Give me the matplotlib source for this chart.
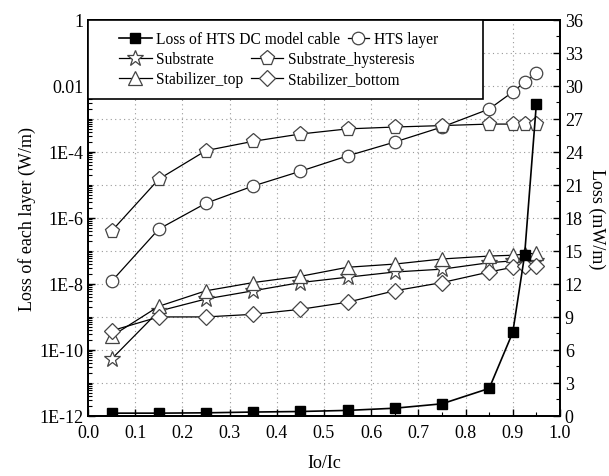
import matplotlib as mpl
mpl.use('Agg')
import matplotlib.pyplot as plt
import matplotlib.ticker as ticker
from matplotlib.patches import Rectangle
from matplotlib.legend import Legend

plt.rcParams['font.family'] = ['Liberation Serif', 'DejaVu Serif']

# Io/Ic 取值
x = [0.05, 0.15, 0.25, 0.35, 0.45, 0.55, 0.65, 0.75, 0.85, 0.9, 0.925, 0.95]

# 各层损耗 (W/m), 左轴
hts_layer = [1.2e-8, 4.6e-7, 2.8e-6, 9.3e-6, 2.6e-5, 7.6e-5, 2.0e-4, 5.7e-4, 2.0e-3, 6.6e-3, 1.3e-2, 2.4e-2]
substrate = [5.3e-11, 1.5e-9, 3.5e-9, 6.2e-9, 1.1e-8, 1.6e-8, 2.3e-8, 2.8e-8, 4.4e-8, 5.0e-8, 5.0e-8, 4.8e-8]
substrate_hyst = [4.0e-7, 1.5e-5, 1.1e-4, 2.1e-4, 3.5e-4, 5.0e-4, 5.7e-4, 6.3e-4, 7.0e-4, 7.0e-4, 7.0e-4, 7.0e-4]
stab_top = [2.6e-10, 2.1e-9, 6.2e-9, 1.1e-8, 1.7e-8, 3.2e-8, 4.0e-8, 5.7e-8, 7.0e-8, 7.4e-8, 8.0e-8, 8.5e-8]
stab_bottom = [3.8e-10, 1.0e-9, 1.0e-9, 1.2e-9, 1.7e-9, 2.8e-9, 6.2e-9, 1.1e-8, 2.3e-8, 3.2e-8, 3.4e-8, 3.5e-8]

# 电缆总损耗 (mW/m), 右轴
cable_loss = [0.25, 0.25, 0.28, 0.35, 0.4, 0.5, 0.7, 1.1, 2.5, 7.6, 14.6, 28.4]

left_ticks = [1e-12, 1e-10, 1e-8, 1e-6, 1e-4, 1e-2, 1]
left_labels = ['1E-12', '1E-10', '1E-8', '1E-6', '1E-4', '0.01', '1']

fig = plt.figure(figsize=(6.09, 4.77), dpi=100)
ax = fig.add_axes([0.1445, 0.126, 0.775, 0.830])
ax2 = ax.twinx()

mk = dict(color='black', lw=0.9, markerfacecolor='white', markeredgecolor='#444444',
          markeredgewidth=0.9)
h_hts, = ax.plot(x, hts_layer, marker='o', markersize=9, label='HTS layer', **mk)
h_sub, = ax.plot(x, substrate, marker='*', markersize=12, label='Substrate', **mk)
h_hys, = ax.plot(x, substrate_hyst, marker='p', markersize=11, label='Substrate_hysteresis', **mk)
h_top, = ax.plot(x, stab_top, marker='^', markersize=10, label='Stabilizer_top', **mk)
h_bot, = ax.plot(x, stab_bottom, marker='D', markersize=8, label='Stabilizer_bottom', **mk)

h_cab, = ax2.plot(x, cable_loss, color='black', lw=1.2, marker='s', markersize=7,
                  markerfacecolor='black', label='Loss of HTS DC model cable')

ax.set_yscale('log')
ax.set_ylim(1e-12, 1)
ax.set_xlim(0, 1.0)
ax.set_yticks(left_ticks)
ax.set_yticklabels(left_labels)
ax.yaxis.set_minor_locator(ticker.LogLocator(base=10, subs=range(1, 10), numticks=30))
ax.yaxis.set_minor_formatter(ticker.NullFormatter())
ax.xaxis.set_major_locator(ticker.MultipleLocator(0.1))
ax.xaxis.set_minor_locator(ticker.MultipleLocator(0.05))
ax.xaxis.set_major_formatter(ticker.FormatStrFormatter('%.1f'))

ax2.set_ylim(0, 36)
ax2.yaxis.set_major_locator(ticker.MultipleLocator(3))
ax2.yaxis.set_minor_locator(ticker.MultipleLocator(1.5))

# 网格: 灰色点线
for v in [0.1, 0.2, 0.3, 0.4, 0.5, 0.6, 0.7, 0.8, 0.9]:
    ax.axvline(v, color='#999999', lw=0.8, ls=(0, (1, 3)), zorder=0)
for k in range(-11, 0):
    ax.axhline(10.0 ** k, color='#999999', lw=0.8, ls=(0, (1, 3)), zorder=0)

for a in (ax, ax2):
    a.tick_params(which='both', direction='in', labelsize=13)
    a.tick_params(which='major', length=5, width=1.0)
    a.tick_params(which='minor', length=3, width=0.8)
    for s in a.spines.values():
        s.set_linewidth(1.3)
ax.tick_params(which='both', right=False, top=False)
ax.tick_params(axis='x', pad=6)

ax.set_xlabel('Io/Ic', fontsize=13, labelpad=9)
ax.set_ylabel('Loss of each layer (W/m)', fontsize=13, labelpad=2)
ax2.set_ylabel('Loss (mW/m)', fontsize=13, rotation=270, labelpad=16)

# 图例外框
frame = Rectangle((0, 0.80), 0.837, 0.20, transform=ax2.transAxes, facecolor='white',
                  edgecolor='black', lw=1.2, zorder=4.5, clip_on=False)
ax2.add_patch(frame)

# 图例每一项单独放置, 还原原图的排布 (handle, x, y, handle长度)
entries = [(h_cab, 0.066, 0.952, 2.1), (h_hts, 0.550, 0.952, 1.4),
           (h_sub, 0.066, 0.9015, 2.1), (h_hys, 0.345, 0.9015, 2.1),
           (h_top, 0.066, 0.851, 2.1), (h_bot, 0.345, 0.851, 2.1)]
for h, lx, ly, hl in entries:
    leg = Legend(ax2, [h], [h.get_label()], loc='center left', bbox_to_anchor=(lx, ly),
                 bbox_transform=ax2.transAxes, borderaxespad=0, borderpad=0,
                 fontsize=11.2, frameon=False, handlelength=hl, handletextpad=0.3)
    ax2.add_artist(leg)

plt.savefig('out.png', dpi=100)
